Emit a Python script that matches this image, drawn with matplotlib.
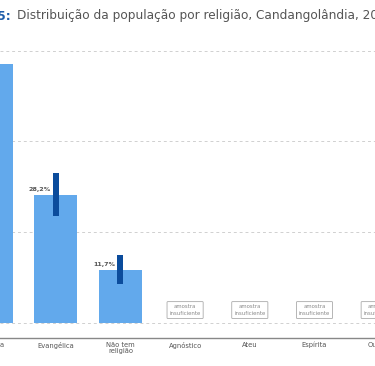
import matplotlib
matplotlib.use("Agg")
import matplotlib.pyplot as plt
import numpy as np

# dados
categorias = ["Católica", "Evangélica", "Não tem\nreligião", "Agnóstico", "Ateu", "Espírita", "Outras"]
valores = [57.0, 28.2, 11.7, np.nan, np.nan, np.nan, np.nan]
ic_inf = [52.5, 23.6, 8.5, np.nan, np.nan, np.nan, np.nan]
ic_sup = [61.5, 33.0, 15.0, np.nan, np.nan, np.nan, np.nan]
titulo_num = "Gráfico 5:"
titulo = "Distribuição da população por religião, Candangolândia, 2021"

cor_barra = "#62A9EC"
cor_ic = "#0B4C9C"
cor_texto = "#555555"

W, H = 375, 366
fig = plt.figure(figsize=(W / 100, H / 100), dpi=100)

# geometria em pixels (o gráfico original está recortado dos dois lados)
px_cat0 = -9.0
px_passo = 64.7
px_base = 323.0
px_por_pct = 4.54
px_top, px_bot = 40.0, 338.0

ax = fig.add_axes([0, (H - px_bot) / H, 1, (px_bot - px_top) / H])

x = np.arange(len(categorias))
ax.bar(x, np.nan_to_num(valores), width=0.67, color=cor_barra, zorder=2)

for i, v in enumerate(valores):
    if np.isnan(v):
        ax.text(i, 2.85, "amostra\ninsuficiente", ha="center", va="center",
                fontsize=3.9, color="#8a8a8a", linespacing=1.5, zorder=3,
                bbox=dict(boxstyle="round,pad=0.45,rounding_size=0.15",
                          fc="white", ec="#aaaaaa", lw=0.6))
        continue
    ax.bar(i, ic_sup[i] - ic_inf[i], bottom=ic_inf[i], width=0.09,
           color=cor_ic, zorder=3)
    ax.text(i - 0.08, v + 0.6, f"{v:.1f}%".replace(".", ","), ha="right",
            va="bottom", fontsize=4.6, fontweight="bold", color=cor_texto, zorder=4)

for g in [0, 20, 40, 60]:
    ax.axhline(g, color="#d0d0d0", lw=0.7, ls=(0, (3, 3)), zorder=1)

for s in ["top", "left", "right"]:
    ax.spines[s].set_visible(False)
ax.spines["bottom"].set_color("#888888")
ax.spines["bottom"].set_linewidth(1.0)
ax.set_yticks([])
ax.set_xticks([])

# rótulos das categorias como texto, para aparecerem mesmo quando recortados
for i, c in enumerate(categorias):
    ax.text(i, -0.012, c, transform=ax.get_xaxis_transform(), ha="center",
            va="top", fontsize=4.9, color=cor_texto, linespacing=1.1,
            clip_on=False)

ax.set_xlim((0 - px_cat0) / px_passo, (W - px_cat0) / px_passo)
ax.set_ylim((px_base - px_bot) / px_por_pct, (px_base - px_top) / px_por_pct)

fig.text(11 / W, 1 - 16 / H, titulo_num, ha="right", va="center", fontsize=8.7,
         fontweight="bold", color="#1F5DAA")
fig.text(17 / W, 1 - 16 / H, titulo, ha="left", va="center", fontsize=8.7,
         color="#555555")

fig.savefig("out.png", dpi=100)
